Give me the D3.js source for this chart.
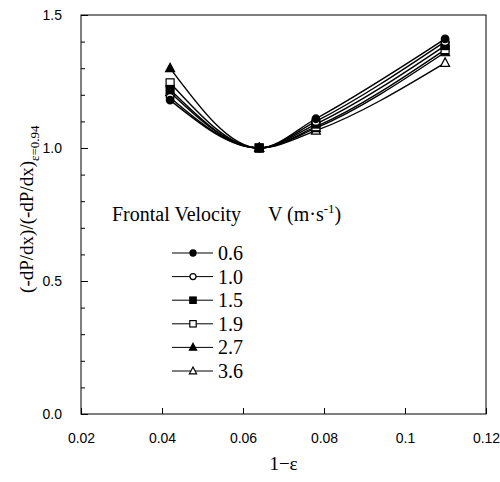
<!DOCTYPE html>
<html>
<head>
<meta charset="utf-8">
<script src="https://cdn.jsdelivr.net/npm/d3@7"></script>
<style>
  body { margin: 0; background: #fff; }
  svg { display: block; }
  .tick text { font-family: "Liberation Sans", Arial, sans-serif; font-size: 14px; }
</style>
</head>
<body>
<svg id="chart" width="500" height="482"></svg>
<script>
// porosity term 1-eps
const xValues = [0.042, 0.064, 0.078, 0.1099];
// frontal velocities (m/s)
const velocities = ['0.6', '1.0', '1.5', '1.9', '2.7', '3.6'];
const v06 = [1.18, 1.0, 1.11, 1.41];
const v10 = [1.19, 1.0, 1.10, 1.40];
const v15 = [1.22, 1.0, 1.09, 1.385];
const v19 = [1.245, 1.0, 1.08, 1.37];
const v27 = [1.30, 1.0, 1.075, 1.36];
const v36 = [1.21, 1.0, 1.065, 1.32];
const xTicks = [0.02, 0.04, 0.06, 0.08, 0.1, 0.12];
const yTicks = [0.0, 0.5, 1.0, 1.5];

const seriesValues = [v06, v10, v15, v19, v27, v36];
const markers = ['circle', 'circle', 'square', 'square', 'triangle', 'triangle'];
const filled = [true, false, true, false, true, false];

const svg = d3.select('#chart');
const margin = { top: 15, right: 14, bottom: 68, left: 81 };
const width = 500 - margin.left - margin.right;
const height = 482 - margin.top - margin.bottom;

const x = d3.scaleLinear().domain([0.02, 0.12]).range([0, width]);
const y = d3.scaleLinear().domain([0, 1.5]).range([height, 0]);

const g = svg.append('g')
    .attr('transform', `translate(${margin.left},${margin.top})`);

// frame
g.append('rect')
    .attr('width', width)
    .attr('height', height)
    .attr('fill', 'none')
    .attr('stroke', '#000')
    .attr('stroke-width', 1);

// x axis, ticks pointing in
g.append('g')
    .attr('transform', `translate(0,${height})`)
    .call(d3.axisBottom(x).tickValues(xTicks).tickSize(-6).tickPadding(16)
        .tickFormat(d => d3.format('~g')(d)))
    .call(a => a.select('.domain').remove())
    .call(a => a.selectAll('.tick text').attr('dy', '0.9em'));

// y axis, minor ticks
g.append('g')
    .call(d3.axisLeft(y).tickValues(d3.range(0, 1.51, 0.1)).tickSize(-4).tickFormat(''))
    .call(a => a.select('.domain').remove());

g.append('g')
    .call(d3.axisLeft(y).tickValues(yTicks).tickSize(-7).tickPadding(19).tickFormat(d3.format('.1f')))
    .call(a => a.select('.domain').remove());

g.selectAll('.tick line').attr('stroke', '#000');

const serif = '"Liberation Serif", "Times New Roman", serif';

// axis titles
svg.append('text')
    .attr('x', margin.left + x(0.07))
    .attr('y', 470)
    .attr('text-anchor', 'middle')
    .style('font-family', serif)
    .style('font-size', '19px')
    .text('1\u2212\u03b5');

const yTitle = svg.append('text')
    .attr('transform', `translate(33,${margin.top + y(0.77)}) rotate(-90)`)
    .attr('text-anchor', 'middle')
    .style('font-family', serif)
    .style('font-size', '19px');
yTitle.append('tspan').text('(-dP/dx)/(-dP/dx)');
yTitle.append('tspan').attr('dy', 6).style('font-size', '13px').text('\u03b5=0.94');

// curves
const line = d3.line()
    .x((d, i) => x(xValues[i]))
    .y(d => y(d))
    .curve(d3.curveMonotoneX);

g.append('g')
    .selectAll('path')
    .data(seriesValues)
    .join('path')
    .attr('d', d => line(d))
    .attr('fill', 'none')
    .attr('stroke', '#000')
    .attr('stroke-width', 1.4);

function drawMarker(sel, type, fill, cx, cy, k) {
    const col = fill ? '#000' : '#fff';
    if (type === 'circle') {
        sel.append('circle').attr('cx', cx).attr('cy', cy).attr('r', 3.8 * k)
            .attr('fill', col).attr('stroke', '#000').attr('stroke-width', 1.2);
    } else if (type === 'square') {
        sel.append('rect').attr('x', cx - 4 * k).attr('y', cy - 4 * k)
            .attr('width', 8 * k).attr('height', 8 * k)
            .attr('fill', col).attr('stroke', '#000').attr('stroke-width', 1.2);
    } else {
        sel.append('path')
            .attr('d', `M${cx},${cy - 5 * k}L${cx + 4.5 * k},${cy + 3.5 * k}L${cx - 4.5 * k},${cy + 3.5 * k}Z`)
            .attr('fill', col).attr('stroke', '#000').attr('stroke-width', 1.2);
    }
}

// points, drawn last series first so that filled ones sit on top
const pts = g.append('g');
for (let s = seriesValues.length - 1; s >= 0; s--) {
    seriesValues[s].forEach((v, i) => drawMarker(pts, markers[s], filled[s], x(xValues[i]), y(v), 1));
}

// legend
const title = svg.append('text')
    .attr('y', 221)
    .style('font-family', serif)
    .style('font-size', '20px');
title.append('tspan').attr('x', 112).text('Frontal Velocity');
title.append('tspan').attr('x', 268).text('V (m\u00b7s');
title.append('tspan').attr('dy', -8).style('font-size', '13px').text('-1');
title.append('tspan').attr('dy', 8).text(')');

const legend = svg.append('g');
velocities.forEach((v, i) => {
    const ly = 253 + i * 23.6;
    legend.append('line')
        .attr('x1', 172).attr('x2', 213).attr('y1', ly).attr('y2', ly)
        .attr('stroke', '#000').attr('stroke-width', 1);
    drawMarker(legend, markers[i], filled[i], 193, ly, 0.8);
    legend.append('text')
        .attr('x', 218).attr('y', ly + 7)
        .style('font-family', serif)
        .style('font-size', '20px')
        .text(v);
});
</script>
</body>
</html>
